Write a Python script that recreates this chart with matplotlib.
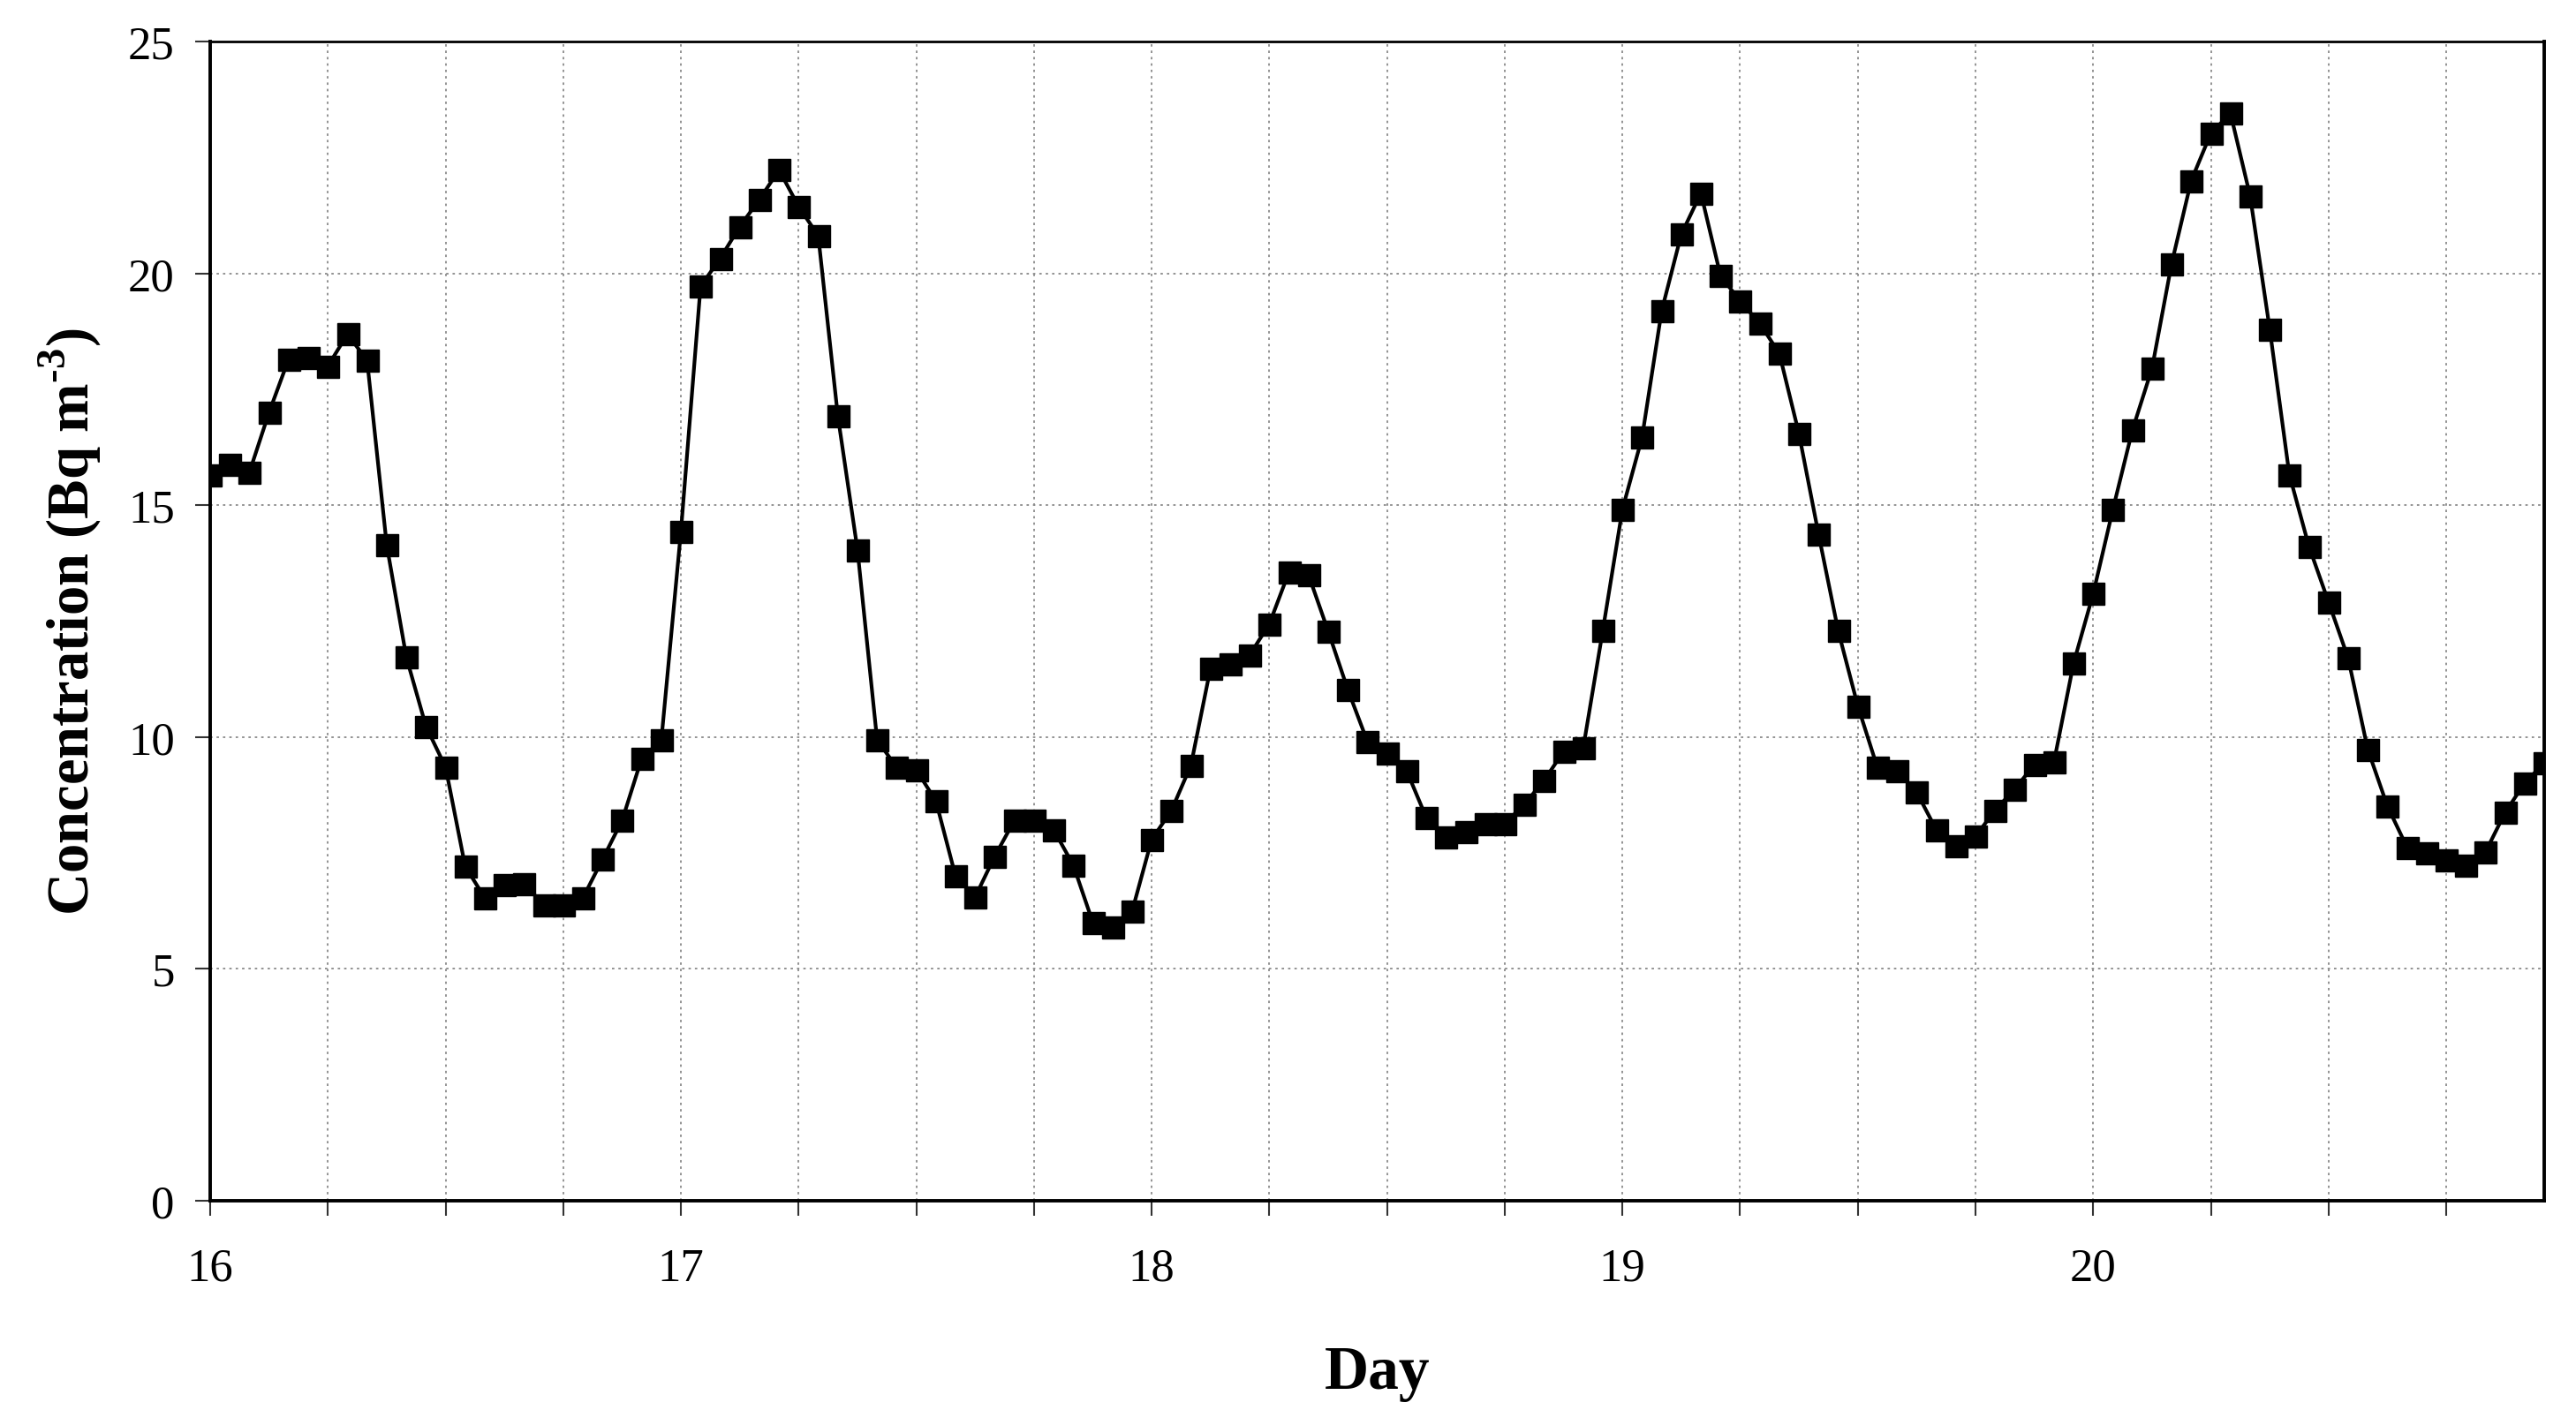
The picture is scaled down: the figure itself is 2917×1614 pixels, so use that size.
"""Hourly radon concentration over days 16-20."""

import matplotlib

matplotlib.use("Agg")
import matplotlib.pyplot as plt
import numpy as np
from matplotlib.ticker import MultipleLocator

plt.rcParams["font.family"] = ["Liberation Serif", "DejaVu Serif"]
plt.rcParams["mathtext.fontset"] = "custom"
plt.rcParams["mathtext.rm"] = "Liberation Serif"
plt.rcParams["mathtext.bf"] = "Liberation Serif:bold"

# hourly readings, one list per day (hour 0 .. 23)
day16 = [15.65, 15.88, 15.71, 17.0, 18.15, 18.18, 18.0, 18.69, 18.12, 14.14, 11.72, 10.23,
         9.35, 7.21, 6.53, 6.82, 6.84, 6.38, 6.38, 6.53, 7.36, 8.2, 9.54, 9.93]
day17 = [14.44, 19.72, 20.32, 21.01, 21.59, 22.23, 21.44, 20.81, 16.92, 14.04, 9.94, 9.34,
         9.29, 8.62, 7.0, 6.55, 7.43, 8.2, 8.2, 8.0, 7.24, 6.0, 5.9, 6.24]
day18 = [7.79, 8.41, 9.39, 11.49, 11.58, 11.77, 12.44, 13.56, 13.49, 12.28, 11.02, 9.9,
         9.65, 9.27, 8.26, 7.84, 7.96, 8.13, 8.13, 8.55, 9.06, 9.69, 9.76, 12.3]
day19 = [14.91, 16.46, 19.19, 20.84, 21.73, 19.95, 19.4, 18.92, 18.27, 16.54, 14.37, 12.29,
         10.67, 9.34, 9.27, 8.81, 8.0, 7.66, 7.86, 8.42, 8.88, 9.4, 9.46, 11.59]
day20 = [13.09, 14.9, 16.62, 17.95, 20.21, 22.0, 23.02, 23.45, 21.67, 18.8, 15.66, 14.11,
         12.91, 11.7, 9.73, 8.51, 7.62, 7.5, 7.34, 7.24, 7.52, 8.37, 9.01, 9.44]

first_day = 16
day_ticks = [16, 17, 18, 19, 20]
conc_ticks = [0, 5, 10, 15, 20, 25]

concentration = np.array(day16 + day17 + day18 + day19 + day20)
days = first_day + np.arange(len(concentration)) / 24.0  # one sample per hour

fig = plt.figure(figsize=(29.17, 16.15), dpi=100)
ax = fig.add_axes([0.0816, 0.1573, 0.9061, 0.8130])

ax.plot(days, concentration, color="black", linewidth=3.0, marker="s",
        markersize=18, markerfacecolor="black", markeredgecolor="black", zorder=3)

ax.set_xlim(first_day, days[-1])
ax.set_ylim(0, 25)
ax.set_xticks(day_ticks)
ax.set_xticklabels([str(d) for d in day_ticks])
ax.xaxis.set_minor_locator(MultipleLocator(0.25))
ax.set_yticks(conc_ticks)

grid_style = dict(color="#8a8a8a", linestyle=(0, (1.5, 2.5)), linewidth=1.3)
ax.grid(True, which="both", axis="x", **grid_style)
ax.grid(True, which="major", axis="y", **grid_style)
ax.set_axisbelow(True)

ax.tick_params(axis="both", which="both", direction="out", length=12, width=1.5,
               labelsize=38, color="#333333")
ax.tick_params(axis="x", which="major", pad=26)
ax.tick_params(axis="y", which="major", pad=17)

for side in ["left", "bottom", "right"]:
    ax.spines[side].set_linewidth(2.8)
ax.spines["top"].set_linewidth(2.0)

ax.set_xlabel("Day", fontsize=50, fontweight="bold", va="top")
ax.xaxis.set_label_coords(0.5, -0.124)
ax.set_ylabel("Concentration (Bq m$^{\\mathregular{\u20103}}$)", fontsize=48,
              fontweight="bold", va="center")
ax.yaxis.set_label_coords(-0.06, 0.5)

fig.savefig("out.png", dpi=100, facecolor="white")
plt.close(fig)
